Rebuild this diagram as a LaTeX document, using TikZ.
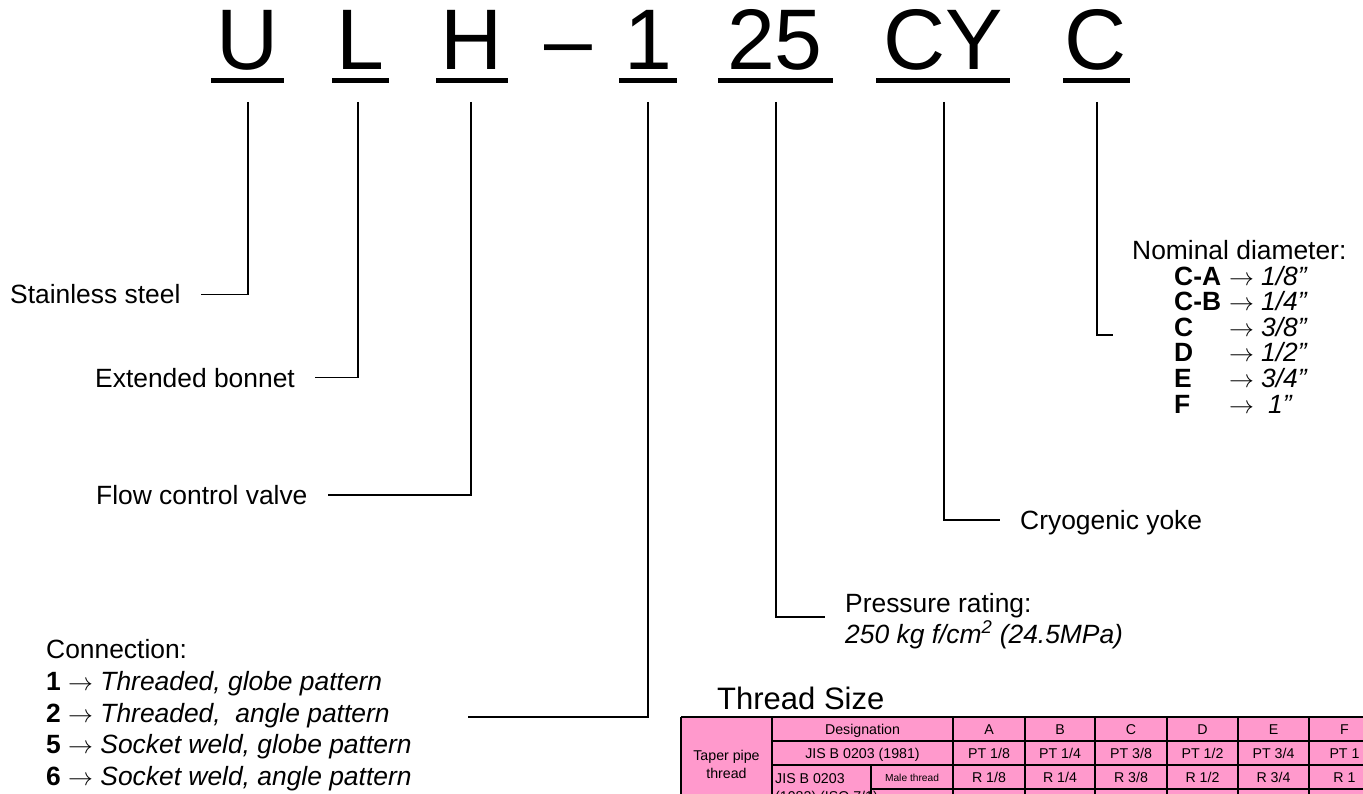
\documentclass[tikz,border=0pt]{standalone}
\usepackage{fontspec}
\setmainfont{Liberation Sans}
\definecolor{tpink}{HTML}{FF99CC}
\begin{document}
\begin{tikzpicture}[x=1pt,y=-1pt,
  ttl/.style={anchor=base, inner sep=0pt, font=\fontsize{86}{90}\selectfont},
  lbl/.style={anchor=base west, inner sep=0pt, font=\fontsize{26.4}{30}\selectfont},
  uline/.style={line width=4.5pt},
  conn/.style={line width=1.5pt},
  cell/.style={anchor=base, inner sep=0pt, font=\fontsize{14.2}{16}\selectfont},
  cellsm/.style={anchor=base, inner sep=0pt, font=\fontsize{10.2}{12}\selectfont},
  tline/.style={line width=1.6pt},
  ttlsize/.style={anchor=base west, inner sep=0pt, font=\fontsize{31}{34}\selectfont}]
\useasboundingbox (0,0) rectangle (1363,794);
% title letters
\node[ttl] (tU) at (248,70) {U};
\node[ttl] (tL) at (360,70) {L};
\node[ttl] (tH) at (472,70) {H};
\node[ttl] (tD) at (568,70) {–};
\node[ttl] (t1) at (648,70) {1};
\node[ttl] (t25) at (775,70) {25};
\node[ttl] (tCY) at (943,70) {CY};
\node[ttl] (tC) at (1096,70) {C};
% underlines
\draw[uline] (211,80.5) -- (284,80.5);
\draw[uline] (332,80.5) -- (389,80.5);
\draw[uline] (436,80.5) -- (508,80.5);
\draw[uline] (619,80.5) -- (677,80.5);
\draw[uline] (718,80.5) -- (833,80.5);
\draw[uline] (876,80.5) -- (1010,80.5);
\draw[uline] (1063,80.5) -- (1130,80.5);
% connector tops
\coordinate (cU) at (248,102);
\coordinate (cL) at (358,102);
\coordinate (cH) at (471,102);
\coordinate (c1) at (648,102);
\coordinate (c25) at (776,102);
\coordinate (cCY) at (944,102);
\coordinate (cC) at (1097,102);
% labels
\node[lbl] (ss) at (10,304) {Stainless steel};
\node[lbl] (eb) at (95,387) {Extended bonnet};
\node[lbl] (fv) at (96,504.5) {Flow control valve};
\node[lbl] (cy) at (1020,529.5) {Cryogenic yoke};
\node[lbl] (pr) at (845,612) {Pressure rating:};
\node[lbl] (pr2) at (845,643) {\itshape 250 kg f/cm\textsuperscript{2} (24.5MPa)};
\node[lbl] (cn) at (46,658) {Connection:};
\node[lbl] (cn1) at (46,690) {\bfseries 1 \mdseries$\rightarrow$ \itshape Threaded, globe pattern};
\node[lbl] (cn2) at (46,722) {\bfseries 2 \mdseries$\rightarrow$ \itshape Threaded, \ angle pattern};
\node[lbl] (cn5) at (46,753.5) {\bfseries 5 \mdseries$\rightarrow$ \itshape Socket weld, globe pattern};
\node[lbl] (cn6) at (46,785) {\bfseries 6 \mdseries$\rightarrow$ \itshape Socket weld, angle pattern};
\node[lbl] (nd) at (1132,260) {Nominal diameter:};
\node[lbl] (ndA) at (1174,285.5) {\makebox[55pt][l]{\bfseries C-A}$\rightarrow$\hspace{7pt}\itshape 1/8”};
\node[lbl] (ndB) at (1174,311) {\makebox[55pt][l]{\bfseries C-B}$\rightarrow$\hspace{7pt}\itshape 1/4”};
\node[lbl] (ndC) at (1174,336.5) {\makebox[55pt][l]{\bfseries C}$\rightarrow$\hspace{7pt}\itshape 3/8”};
\node[lbl] (ndD) at (1174,362) {\makebox[55pt][l]{\bfseries D}$\rightarrow$\hspace{7pt}\itshape 1/2”};
\node[lbl] (ndE) at (1174,387.5) {\makebox[55pt][l]{\bfseries E}$\rightarrow$\hspace{7pt}\itshape 3/4”};
\node[lbl] (ndF) at (1174,413) {\makebox[55pt][l]{\bfseries F}$\rightarrow$\hspace{14pt}\itshape 1”};
% connector ends
\coordinate (e1) at (468,717);
\coordinate (e25) at (825,617);
\coordinate (eCY) at (1000,520);
\coordinate (eC) at (1113,335);
% connectors
\draw[conn] (cU) |- ([xshift=20pt]ss.east);
\draw[conn] (cL) |- ([xshift=20pt]eb.east);
\draw[conn] (cH) |- ([xshift=20pt]fv.east);
\draw[conn] (c1) |- (e1);
\draw[conn] (c25) |- (e25);
\draw[conn] (cCY) |- (eCY);
\draw[conn] (cC) |- (eC);
% thread size
\node[ttlsize] (ts) at (717,709) {Thread Size};
\begin{scope}
\clip (0,0) rectangle (1363,794);
\fill[tpink] (681,717) rectangle (1380,813);
\draw[tline] (681,717) -- (1380,717);
\draw[tline] (772,741) -- (1380,741);
\draw[tline] (772,765) -- (1380,765);
\draw[tline] (871,789) -- (1380,789);
\draw[tline] (681,813) -- (1380,813);
\foreach \xx in {681,772,953,1025,1095,1167,1238,1309,1380}
  \draw[tline] (\xx,717) -- (\xx,813);
\draw[tline] (871,765) -- (871,813);
\node[cell] (tp1) at (726.5,760) {Taper pipe};
\node[cell] (tp2) at (726.5,778) {thread};
\node[cell] (dsg) at (862.5,734) {Designation};
\node[cell] (jis1) at (862.5,758) {JIS B 0203 (1981)};
\node[cell,anchor=base west] (jis2) at (775,783) {JIS B 0203};
\node[cell,anchor=base west] (jis3) at (775,801) {(1982) (ISO 7/1)};
\node[cellsm] (mt) at (912,781) {Male thread};
\foreach \cx/\h/\p/\r [count=\i] in {989/A/PT 1\slash8/R 1\slash8, 1060/B/PT 1\slash4/R 1\slash4, 1131/C/PT 3\slash8/R 3\slash8, 1202.5/D/PT 1\slash2/R 1\slash2, 1273.5/E/PT 3\slash4/R 3\slash4, 1344.5/F/PT 1/R 1}{
  \node[cell] (h\i) at (\cx,734) {\h};
  \node[cell] (p\i) at (\cx,758) {\p};
  \node[cell] (r\i) at (\cx,782) {\r};
}
\end{scope}
\end{tikzpicture}
\end{document}
